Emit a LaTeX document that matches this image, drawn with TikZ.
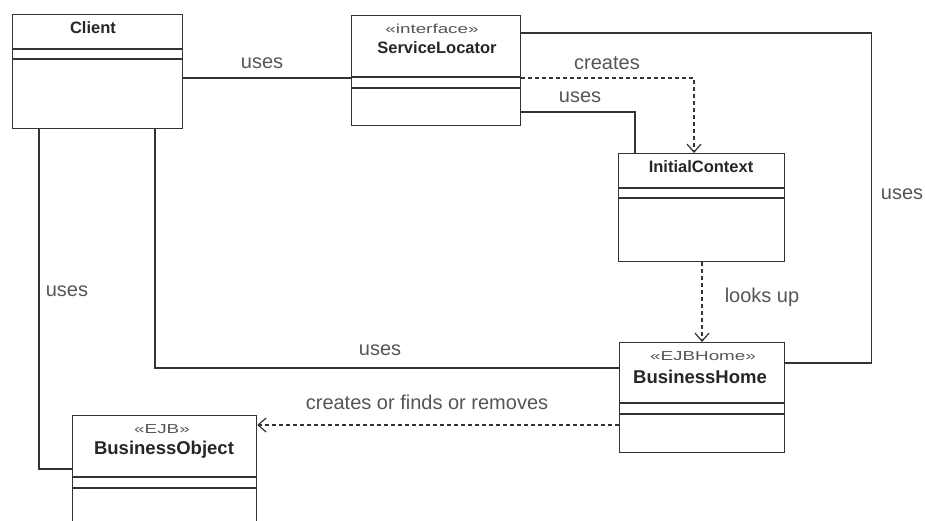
\documentclass[tikz,border=0pt]{standalone}
\usepackage{fontspec}
\setmainfont{Liberation Sans}
\newfontfamily\stereofont[FakeStretch=1.45]{Liberation Sans}
\usetikzlibrary{arrows.meta}
\definecolor{linecol}{HTML}{333333}
\definecolor{labelcol}{HTML}{555555}
\begin{document}
\begin{tikzpicture}[x=1pt,y=-1pt,
  classbox/.style={draw=linecol,line width=1.2pt,rectangle,inner sep=0pt,anchor=north west},
  divider/.style={draw=linecol,line width=1.2pt},
  titletext/.style={font=\fontsize{16.5}{18}\selectfont\bfseries,text=black!85,inner sep=0pt},
  bigtitle/.style={font=\fontsize{18.5}{20}\selectfont\bfseries,text=black!85,inner sep=0pt},
  stereo/.style={font=\stereofont\fontsize{13}{14}\selectfont,text=labelcol,inner sep=0pt},
  assoc/.style={draw=linecol,line width=1.2pt},
  depend/.style={draw=linecol,line width=1.2pt,dash pattern=on 4pt off 3pt,
    -{Straight Barb[length=8pt,width=14pt,line width=1.2pt]}},
  lbl/.style={font=\fontsize{20}{22}\selectfont,text=labelcol,inner sep=0pt}]

\useasboundingbox (0,0) rectangle (925,520);
\clip (0,0) rectangle (925,520);

% --- classes ---
\node[classbox,minimum width=170pt,minimum height=114pt] (client) at (12,14) {};
\node[titletext] at (93,28) {Client};
\draw[divider] ([yshift=-35pt]client.north west) -- ([yshift=-35pt]client.north east);
\draw[divider] ([yshift=-45pt]client.north west) -- ([yshift=-45pt]client.north east);

\node[classbox,minimum width=169pt,minimum height=110pt] (sl) at (351,15) {};
\node[stereo] at (432,29) {«interface»};
\node[titletext] at (437,48) {ServiceLocator};
\draw[divider] ([yshift=-62pt]sl.north west) -- ([yshift=-62pt]sl.north east);
\draw[divider] ([yshift=-73pt]sl.north west) -- ([yshift=-73pt]sl.north east);

\node[classbox,minimum width=166pt,minimum height=108pt] (ic) at (618,153) {};
\node[titletext] at (701,167) {InitialContext};
\draw[divider] ([yshift=-35pt]ic.north west) -- ([yshift=-35pt]ic.north east);
\draw[divider] ([yshift=-45pt]ic.north west) -- ([yshift=-45pt]ic.north east);

\node[classbox,minimum width=165pt,minimum height=110pt] (bh) at (619,342) {};
\node[stereo] at (703,356) {«EJBHome»};
\node[bigtitle] at (700,377) {BusinessHome};
\draw[divider] ([yshift=-61pt]bh.north west) -- ([yshift=-61pt]bh.north east);
\draw[divider] ([yshift=-72pt]bh.north west) -- ([yshift=-72pt]bh.north east);

\node[classbox,minimum width=184pt,minimum height=120pt] (bo) at (72,415) {};
\node[stereo] at (162,429) {«EJB»};
\node[bigtitle] at (164,450) {BusinessObject};
\draw[divider] ([yshift=-62pt]bo.north west) -- ([yshift=-62pt]bo.north east);
\draw[divider] ([yshift=-73pt]bo.north west) -- ([yshift=-73pt]bo.north east);

% --- associations ---
\draw[assoc] ([yshift=-64pt]client.north east) -- ([yshift=-63pt]sl.north west);
\node[lbl] at (262,63) {uses};

\draw[assoc] ([yshift=-18pt]sl.north east) -| ([xshift=86pt,yshift=-21pt]bh.north east) -- ([yshift=-21pt]bh.north east);
\node[lbl] at (902,194) {uses};

\draw[assoc] ([yshift=-97pt]sl.north east) -| ([xshift=17pt]ic.north west);
\node[lbl] at (580,97) {uses};

\draw[assoc] ([xshift=143pt]client.south west) |- ([yshift=-26pt]bh.north west);
\node[lbl] at (380,350) {uses};

\draw[assoc] ([xshift=27pt]client.south west) |- ([yshift=-54pt]bo.north west);
\node[lbl] at (67,291) {uses};

% --- dependencies ---
\draw[depend] ([yshift=-63pt]sl.north east) -| ([xshift=76pt]ic.north west);
\node[lbl] at (607,63) {creates};

\draw[depend] ([xshift=84pt]ic.south west) -- ([xshift=83pt]bh.north west);
\node[lbl] at (762,297) {looks up};

\draw[depend] ([yshift=-83pt]bh.north west) -- ([yshift=-10pt]bo.north east);
\node[lbl] at (427,402) {creates or finds or removes};

\end{tikzpicture}
\end{document}
